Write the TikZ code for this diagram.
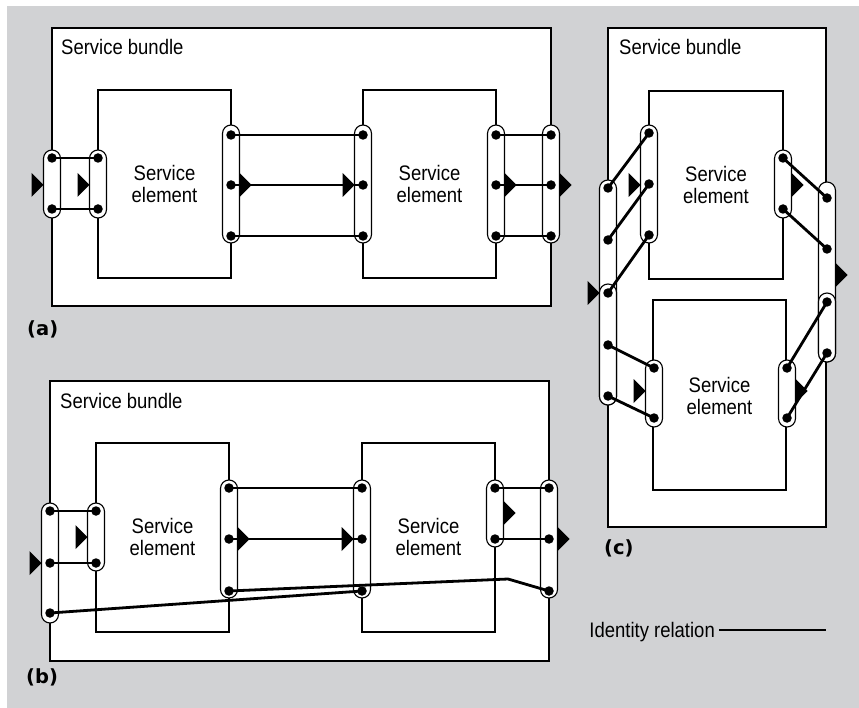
\documentclass[tikz,border=0pt]{standalone}
\usepackage{fontspec}
\setmainfont{Liberation Sans}[FakeStretch=0.88]
\newfontfamily\tagfont{DejaVu Sans}
\definecolor{panelgray}{RGB}{209,210,212}

\tikzset{
  box/.style={draw=black,line width=1.2pt,fill=white},
  elem/.style={draw=black,line width=1.1pt},
  port/.style={draw=black,line width=1.1pt,fill=white,rounded corners=8.5pt},
  conn/.style={line width=2.8pt,black},
  dot/.style={circle,fill=black,inner sep=0pt,minimum size=9.5pt},
  lbl/.style={font=\fontsize{21}{22}\selectfont,align=center,inner sep=0pt},
  title/.style={font=\fontsize{21}{22}\selectfont,anchor=base west,inner sep=0pt},
  tag/.style={font=\tagfont\bfseries\fontsize{19.5}{19.5}\selectfont,anchor=west,inner sep=0pt},
  intri/.pic={\fill[black] (-12,-12) -- (0,0) -- (-12,12) -- cycle;},
  outtri/.pic={\fill[black] (0,-12) -- (12,0) -- (0,12) -- cycle;}
}

\begin{document}
\begin{tikzpicture}[x=1pt,y=-1pt]
\useasboundingbox (0,0) rectangle (859,708);
\fill[white] (0,0) rectangle (859,708);
\fill[panelgray] (7,6) rectangle (859,708);

% ---------------- (a) ----------------
\draw[box] (52,28) rectangle (551,306);
\node[title] (aT) at (61,55) {Service bundle};
\draw[elem] (98,90) rectangle (231,278);
\draw[elem] (363,90) rectangle (496,278);
\node[lbl] (aS1) at (164.5,184) {Service\\element};
\node[lbl] (aS2) at (429.5,184) {Service\\element};

\draw[port] (43.5,150) rectangle (60.5,218);
\draw[port] (89.5,150) rectangle (106.5,218);
\draw[port] (222.5,125) rectangle (239.5,243);
\draw[port] (354.5,125) rectangle (371.5,243);
\draw[port] (487.5,125) rectangle (504.5,243);
\draw[port] (542.5,125) rectangle (559.5,243);

\node[dot] (aBL1) at (52,158) {};
\node[dot] (aBL2) at (52,209) {};
\node[dot] (aEL1) at (98,158) {};
\node[dot] (aEL2) at (98,209) {};
\node[dot] (aER1) at (231,135) {};
\node[dot] (aER2) at (231,185) {};
\node[dot] (aER3) at (231,236) {};
\node[dot] (aFL1) at (363,135) {};
\node[dot] (aFL2) at (363,185) {};
\node[dot] (aFL3) at (363,236) {};
\node[dot] (aFR1) at (496,135) {};
\node[dot] (aFR2) at (496,185) {};
\node[dot] (aFR3) at (496,236) {};
\node[dot] (aBR1) at (551,135) {};
\node[dot] (aBR2) at (551,185) {};
\node[dot] (aBR3) at (551,236) {};

\draw[conn] (aBL1.center) -- (aEL1.center);
\draw[conn] (aBL2.center) -- (aEL2.center);
\draw[conn] (aER1.center) -- (aFL1.center);
\draw[conn] (aER2.center) -- (aFL2.center);
\draw[conn] (aER3.center) -- (aFL3.center);
\draw[conn] (aFR1.center) -- (aBR1.center);
\draw[conn] (aFR2.center) -- (aBR2.center);
\draw[conn] (aFR3.center) -- (aBR3.center);

\pic at (43.5,185) {intri};
\pic at (89.5,185) {intri};
\pic at (239.5,185) {outtri};
\pic at (354.5,185) {intri};
\pic at (504.5,185) {outtri};
\pic at (559.5,185) {outtri};

\node[tag] (aTag) at (27,329) {(a)};

% ---------------- (b) ----------------
\draw[box] (50,381) rectangle (549,661);
\node[title] (bT) at (60,408) {Service bundle};
\draw[elem] (96,443) rectangle (229,632);
\draw[elem] (362,443) rectangle (495,632);
\node[lbl] (bS1) at (162.5,537) {Service\\element};
\node[lbl] (bS2) at (428.5,537) {Service\\element};

\draw[port] (41.5,503) rectangle (58.5,623);
\draw[port] (87.5,503) rectangle (104.5,571);
\draw[port] (220.5,480) rectangle (237.5,598);
\draw[port] (353.5,480) rectangle (370.5,598);
\draw[port] (486.5,480) rectangle (503.5,547);
\draw[port] (540.5,480) rectangle (557.5,598);

\node[dot] (bBL1) at (50,511) {};
\node[dot] (bBL2) at (50,563) {};
\node[dot] (bBL3) at (50,613) {};
\node[dot] (bEL1) at (96,511) {};
\node[dot] (bEL2) at (96,563) {};
\node[dot] (bER1) at (229,488) {};
\node[dot] (bER2) at (229,539) {};
\node[dot] (bER3) at (229,591) {};
\node[dot] (bFL1) at (362,488) {};
\node[dot] (bFL2) at (362,539) {};
\node[dot] (bFL3) at (362,591) {};
\node[dot] (bFR1) at (495,488) {};
\node[dot] (bFR2) at (495,539) {};
\node[dot] (bBR1) at (549,488) {};
\node[dot] (bBR2) at (549,539) {};
\node[dot] (bBR3) at (549,591) {};
\coordinate (bKnee) at (508,579);

\draw[conn] (bBL1.center) -- (bEL1.center);
\draw[conn] (bBL2.center) -- (bEL2.center);
\draw[conn] (bER1.center) -- (bFL1.center);
\draw[conn] (bER2.center) -- (bFL2.center);
\draw[conn] (bBL3.center) -- (bFL3.center);
\draw[conn] (bER3.center) -- (bKnee) -- (bBR3.center);
\draw[conn] (bFR1.center) -- (bBR1.center);
\draw[conn] (bFR2.center) -- (bBR2.center);

\pic at (41.5,563) {intri};
\pic at (87.5,537) {intri};
\pic at (237.5,539) {outtri};
\pic at (353.5,539) {intri};
\pic at (503.5,513) {outtri};
\pic at (557.5,539) {outtri};

\node[tag] (bTag) at (26,677) {(b)};

% ---------------- (c) ----------------
\draw[box] (608,28) rectangle (826,527);
\node[title] (cT) at (619,55) {Service bundle};
\draw[elem] (649,91) rectangle (783,279);
\draw[elem] (653,300) rectangle (786,490);
\node[lbl] (cS1) at (716,185) {Service\\element};
\node[lbl] (cS2) at (719.5,396) {Service\\element};

\draw[port] (599.5,180) rectangle (616.5,405);
\draw[port] (599.5,284) rectangle (616.5,405);
\draw[port] (640.5,125) rectangle (657.5,243);
\draw[port] (645.5,360) rectangle (662.5,427);
\draw[port] (774.5,150) rectangle (791.5,218);
\draw[port] (778.5,360) rectangle (795.5,427);
\draw[port] (818.5,182) rectangle (835.5,362);
\draw[port] (818.5,293) rectangle (835.5,362);

\node[dot] (cBL1) at (608,188) {};
\node[dot] (cBL2) at (608,240) {};
\node[dot] (cBL3) at (608,293) {};
\node[dot] (cBL4) at (608,345) {};
\node[dot] (cBL5) at (608,396) {};
\node[dot] (cUL1) at (649,133) {};
\node[dot] (cUL2) at (649,184) {};
\node[dot] (cUL3) at (649,235) {};
\node[dot] (cLL1) at (654,368) {};
\node[dot] (cLL2) at (654,418) {};
\node[dot] (cUR1) at (783,158) {};
\node[dot] (cUR2) at (783,209) {};
\node[dot] (cLR1) at (787,368) {};
\node[dot] (cLR2) at (787,418) {};
\node[dot] (cBR1) at (827,198) {};
\node[dot] (cBR2) at (827,249) {};
\node[dot] (cBR3) at (827,302) {};
\node[dot] (cBR4) at (827,353) {};

\draw[conn] (cUL1.center) -- (cBL1.center);
\draw[conn] (cUL2.center) -- (cBL2.center);
\draw[conn] (cUL3.center) -- (cBL3.center);
\draw[conn] (cBL4.center) -- (cLL1.center);
\draw[conn] (cBL5.center) -- (cLL2.center);
\draw[conn] (cUR1.center) -- (cBR1.center);
\draw[conn] (cUR2.center) -- (cBR2.center);
\draw[conn] (cLR1.center) -- (cBR3.center);
\draw[conn] (cLR2.center) -- (cBR4.center);

\pic at (599.5,293) {intri};
\pic at (640.5,185) {intri};
\pic at (645.5,391) {intri};
\pic at (791.5,185) {outtri};
\pic at (795.5,391) {outtri};
\pic at (835.5,275) {outtri};

\node[tag] (cTag) at (604,548) {(c)};

% ---------------- legend ----------------
\node[font=\fontsize{21}{22}\selectfont,anchor=base east,inner sep=0pt] (idTxt) at (715,637) {Identity relation};
\coordinate (idA) at (719,630);
\coordinate (idB) at (826,630);
\draw[line width=2pt] (idA) -- (idB);
\end{tikzpicture}
\end{document}
